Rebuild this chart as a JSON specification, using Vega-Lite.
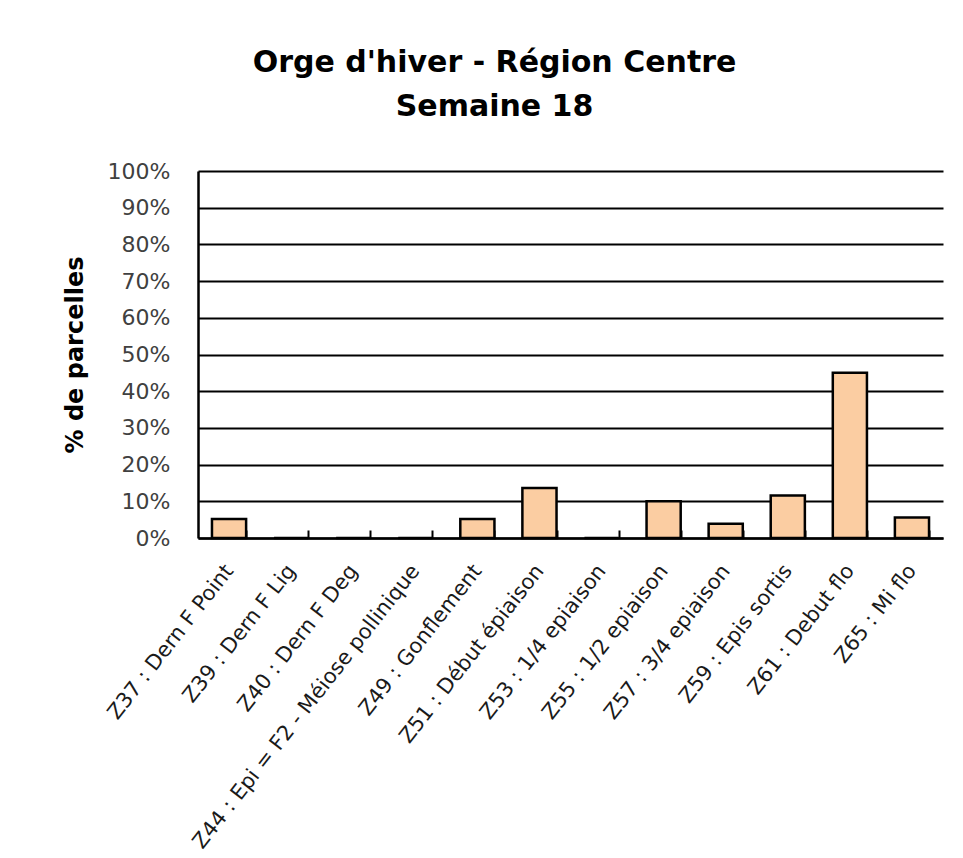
{
  "$schema": "https://vega.github.io/schema/vega-lite/v6.json",
  "autosize": {"type": "none"},
  "width": 745,
  "height": 367,
  "padding": {"left": 198, "top": 171, "right": 20, "bottom": 320},
  "background": "white",
  "title": {
    "text": ["Orge d'hiver - Région Centre", "Semaine 18"],
    "font": "DejaVu Sans",
    "fontSize": 30,
    "fontWeight": "bold",
    "color": "black",
    "lineHeight": 44,
    "anchor": "middle",
    "dx": -76,
    "offset": 38
  },
  "data": {
    "values": [
      {"stade": "Z37 : Dern F Point", "pct": 0.052},
      {"stade": "Z39 : Dern F Lig", "pct": 0},
      {"stade": "Z40 : Dern F Deg", "pct": 0},
      {"stade": "Z44 : Epi = F2 - Méiose pollinique", "pct": 0},
      {"stade": "Z49 : Gonflement", "pct": 0.052},
      {"stade": "Z51 : Début épiaison", "pct": 0.136},
      {"stade": "Z53 : 1/4 epiaison", "pct": 0},
      {"stade": "Z55 : 1/2 epiaison", "pct": 0.10},
      {"stade": "Z57 : 3/4 epiaison", "pct": 0.039},
      {"stade": "Z59 : Epis sortis", "pct": 0.116},
      {"stade": "Z61 : Debut flo", "pct": 0.45},
      {"stade": "Z65 : Mi flo", "pct": 0.056}
    ]
  },
  "mark": {"type": "bar", "fill": "#FBCDA2", "stroke": "black", "strokeWidth": 2.5},
  "encoding": {
    "x": {
      "field": "stade",
      "type": "nominal",
      "sort": null,
      "scale": {"paddingInner": 0.45, "paddingOuter": 0.225},
      "axis": {
        "title": null,
        "labelAngle": -52,
        "labelAlign": "right",
        "labelBaseline": "middle",
        "labelFont": "DejaVu Sans",
        "labelFontSize": 21,
        "labelColor": "#1a1a1a",
        "labelLimit": 600,
        "labelPadding": 37,
        "tickBand": "extent",
        "ticks": true,
        "tickSize": -8,
        "tickColor": "black",
        "tickWidth": 2,
        "domainColor": "black",
        "domainWidth": 2.5,
        "grid": false
      }
    },
    "y": {
      "field": "pct",
      "type": "quantitative",
      "scale": {"domain": [0, 1], "nice": false},
      "axis": {
        "title": "% de parcelles",
        "titleFont": "DejaVu Sans",
        "titleFontSize": 24,
        "titleFontWeight": "bold",
        "titleColor": "black",
        "titlePadding": 20,
        "values": [0, 0.1, 0.2, 0.3, 0.4, 0.5, 0.6, 0.7, 0.8, 0.9, 1],
        "format": ".0%",
        "labelFont": "DejaVu Sans",
        "labelFontSize": 22,
        "labelColor": "#404040",
        "labelPadding": 28,
        "ticks": false,
        "domainColor": "black",
        "domainWidth": 2.5,
        "grid": true,
        "gridColor": "black",
        "gridWidth": 2,
        "gridOpacity": 1
      }
    }
  },
  "config": {
    "view": {"stroke": null}
  }
}
